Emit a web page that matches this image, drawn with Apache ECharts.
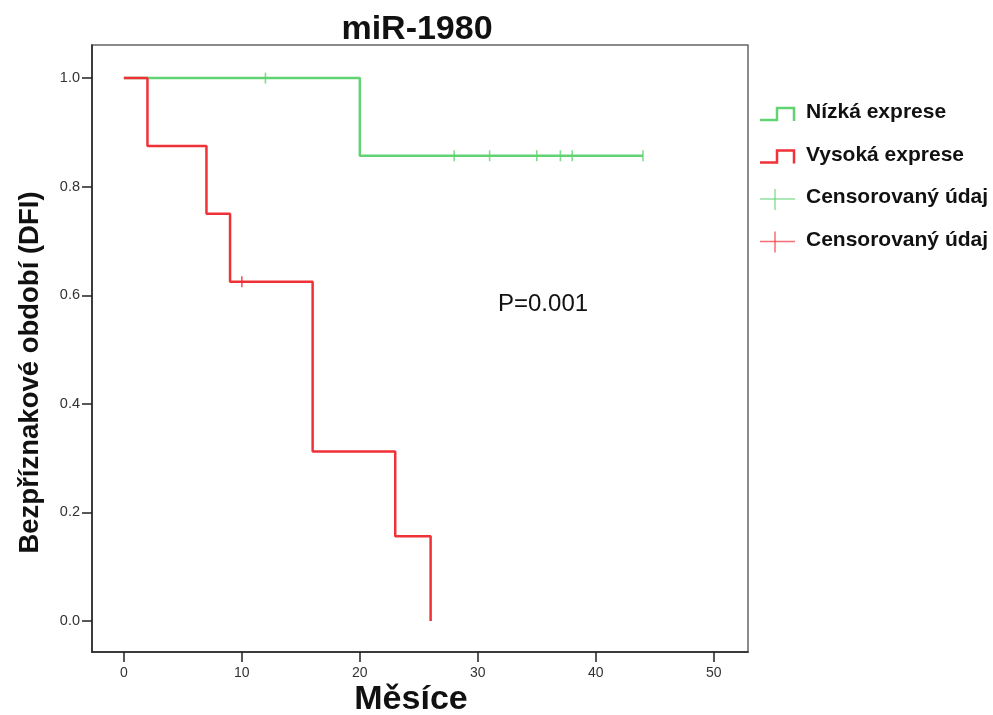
<!DOCTYPE html>
<html>
<head>
<meta charset="utf-8">
<script src="https://cdn.jsdelivr.net/npm/echarts@6/dist/echarts.min.js"></script>
<style>
  html, body { margin: 0; padding: 0; background: #fff; }
  #main { width: 993px; height: 715px; }
</style>
</head>
<body>
<div id="main"></div>
<script>
// Kaplan-Meier steps
let lowTimes = [0, 20, 44];
let lowSurv = [1.0, 0.857, 0.857];
let lowCensored = [12, 28, 31, 35, 37, 38, 44];

let highTimes = [0, 2, 7, 9, 16, 23, 26];
let highSurv = [1.0, 0.875, 0.75, 0.625, 0.3125, 0.15625, 0.0];
let highCensored = [10];

let xTicks = [0, 10, 20, 30, 40, 50];
let yTicks = [0, 0.2, 0.4, 0.6, 0.8, 1.0];

const GREEN = '#62d373';
const RED = '#f03238';
const FONT = 'Liberation Sans, Arial, sans-serif';

function pairs(xs, ys) {
  return xs.map((x, i) => [x, ys[i]]);
}

// survival value at time t for a censor mark
function survAt(times, surv, t) {
  let s = surv[0];
  for (let i = 0; i < times.length; i++) {
    if (times[i] <= t) s = surv[i];
  }
  return s;
}

let chart = echarts.init(document.getElementById('main'));

let legendItems = [
  {name: 'Nízká exprese', color: GREEN, step: true},
  {name: 'Vysoká exprese', color: RED, step: true},
  {name: 'Censorovaný údaj', color: GREEN, step: false},
  {name: 'Censorovaný údaj', color: RED, step: false}
];

let legendGraphics = [];
legendItems.forEach((item, i) => {
  let y = 114 + i * 42.5;
  if (item.step) {
    legendGraphics.push({
      type: 'polyline',
      shape: {points: [[760, y + 6], [777, y + 6], [777, y - 6], [794, y - 6], [794, y + 7]]},
      style: {stroke: item.color, lineWidth: 2.5, fill: null}
    });
  } else {
    legendGraphics.push({
      type: 'polyline',
      shape: {points: [[760, y], [795, y]]},
      style: {stroke: item.color, lineWidth: 1.5, fill: null, opacity: 0.7}
    });
    legendGraphics.push({
      type: 'polyline',
      shape: {points: [[775, y - 10], [775, y + 11]]},
      style: {stroke: item.color, lineWidth: 1.5, fill: null, opacity: 0.7}
    });
  }
  legendGraphics.push({
    type: 'text',
    left: 806,
    top: y - 12,
    style: {text: item.name, font: 'bold 21px ' + FONT, fill: '#111'}
  });
});

let option = {
  backgroundColor: '#fff',
  animation: false,
  title: {
    text: 'miR-1980',
    left: 412,
    top: 8,
    textAlign: 'center',
    textStyle: {fontFamily: FONT, fontSize: 34, fontWeight: 'bold', color: '#111'}
  },
  grid: {
    left: 92, top: 45, right: 245, bottom: 63,
    outerBoundsMode: 'none',
    containLabel: false,
    show: true, borderColor: '#666', borderWidth: 1.5, backgroundColor: '#fff'
  },
  xAxis: {
    type: 'value',
    min: -2.7,
    max: 52.9,
    axisLine: {onZero: false, lineStyle: {color: '#222', width: 1.5}},
    axisTick: {show: true, length: 10, customValues: xTicks, lineStyle: {color: '#222', width: 1.5}},
    axisLabel: {customValues: xTicks, fontFamily: FONT, fontSize: 14, color: '#333', margin: 14},
    splitLine: {show: false}
  },
  yAxis: {
    type: 'value',
    min: -0.057,
    max: 1.061,
    name: 'Bezpříznakové období (DFI)',
    nameLocation: 'middle',
    nameGap: 48,
    nameTextStyle: {
      fontFamily: FONT, fontSize: 27.5, fontWeight: 'bold', color: '#111',
      padding: [0, 48, 0, 0]
    },
    axisLine: {show: true, onZero: false, lineStyle: {color: '#222', width: 1.5}},
    axisTick: {show: true, length: 10, customValues: yTicks, lineStyle: {color: '#222', width: 1.5}},
    axisLabel: {
      customValues: yTicks,
      fontFamily: FONT, fontSize: 14.5, color: '#333', margin: 12,
      formatter: v => v.toFixed(1)
    },
    splitLine: {show: false}
  },
  graphic: [
    {
      type: 'text',
      left: 498,
      top: 292,
      style: {text: 'P=0.001', font: '24px ' + FONT, fill: '#111'}
    },
    {
      type: 'text',
      x: 411,
      y: 683,
      style: {
        text: 'Měsíce', font: 'bold 34px ' + FONT, fill: '#111',
        align: 'center', verticalAlign: 'top'
      }
    }
  ].concat(legendGraphics),
  series: [
    {
      name: 'Nízká exprese',
      type: 'line',
      step: 'end',
      data: pairs(lowTimes, lowSurv),
      symbol: 'none',
      lineStyle: {color: GREEN, width: 2.5},
      z: 2
    },
    {
      name: 'Nízká censor',
      type: 'scatter',
      data: lowCensored.map(t => [t, survAt(lowTimes, lowSurv, t)]),
      symbol: 'rect',
      symbolSize: [1.6, 11],
      itemStyle: {color: GREEN},
      z: 3
    },
    {
      name: 'Vysoká exprese',
      type: 'line',
      step: 'end',
      data: pairs(highTimes, highSurv),
      symbol: 'none',
      lineStyle: {color: RED, width: 2.5},
      z: 4
    },
    {
      name: 'Vysoká censor',
      type: 'scatter',
      data: highCensored.map(t => [t, survAt(highTimes, highSurv, t)]),
      symbol: 'rect',
      symbolSize: [1.6, 11],
      itemStyle: {color: RED},
      z: 5
    }
  ]
};

chart.setOption(option);
</script>
</body>
</html>
